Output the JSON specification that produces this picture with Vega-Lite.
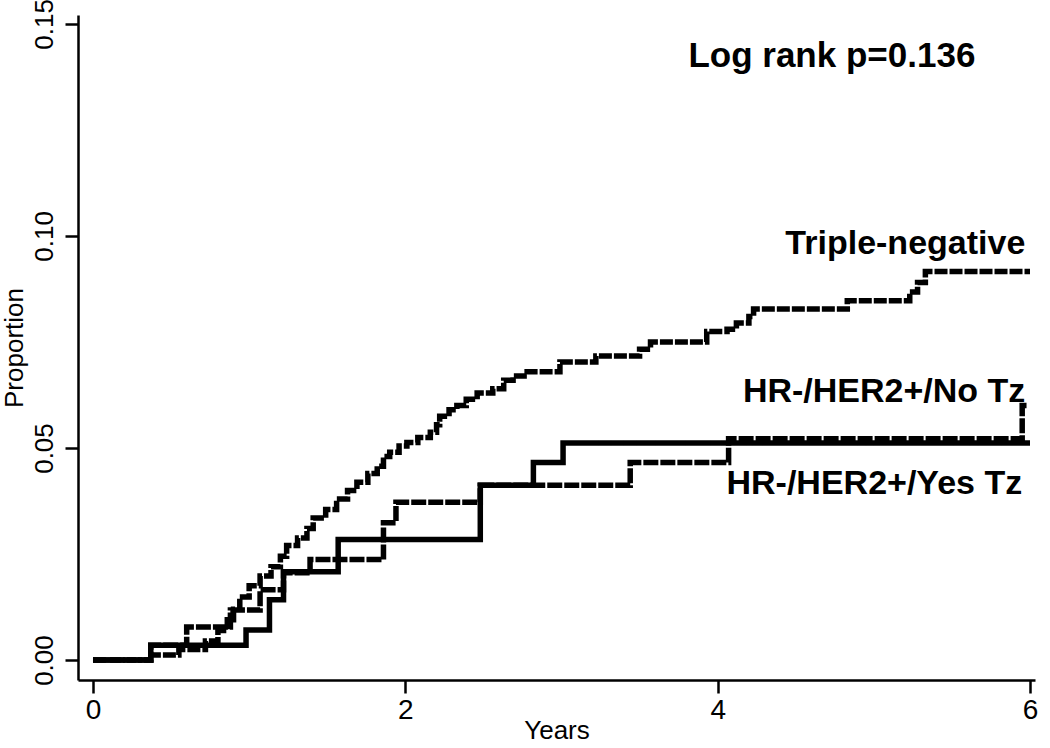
{
  "$schema": "https://vega.github.io/schema/vega-lite/v6.json",
  "width": 957,
  "height": 665,
  "autosize": {"type": "none"},
  "padding": {"left": 78, "top": 15, "right": 15, "bottom": 68},
  "background": "white",
  "config": {
    "view": {"stroke": null},
    "font": "Liberation Sans",
    "axis": {"grid": false, "domainColor": "black", "domainWidth": 2.5, "tickColor": "black", "tickWidth": 2.5, "tickSize": 13, "labelColor": "black", "titleColor": "black", "labelFont": "Liberation Sans", "titleFont": "Liberation Sans", "titleFontWeight": "normal", "labelFontSize": 26, "titleFontSize": 26}
  },
  "datasets": {
    "curves": [
      {"series": "Triple-negative", "t": 0, "p": 0},
      {"series": "Triple-negative", "t": 0.37, "p": 0.0012},
      {"series": "Triple-negative", "t": 0.55, "p": 0.0025},
      {"series": "Triple-negative", "t": 0.72, "p": 0.0045},
      {"series": "Triple-negative", "t": 0.80, "p": 0.007},
      {"series": "Triple-negative", "t": 0.86, "p": 0.0095},
      {"series": "Triple-negative", "t": 0.90, "p": 0.012},
      {"series": "Triple-negative", "t": 0.94, "p": 0.0149},
      {"series": "Triple-negative", "t": 1.00, "p": 0.0175},
      {"series": "Triple-negative", "t": 1.07, "p": 0.0198},
      {"series": "Triple-negative", "t": 1.14, "p": 0.022},
      {"series": "Triple-negative", "t": 1.20, "p": 0.0245},
      {"series": "Triple-negative", "t": 1.24, "p": 0.027},
      {"series": "Triple-negative", "t": 1.31, "p": 0.0288},
      {"series": "Triple-negative", "t": 1.37, "p": 0.031},
      {"series": "Triple-negative", "t": 1.41, "p": 0.0335},
      {"series": "Triple-negative", "t": 1.49, "p": 0.0355},
      {"series": "Triple-negative", "t": 1.56, "p": 0.038},
      {"series": "Triple-negative", "t": 1.63, "p": 0.040},
      {"series": "Triple-negative", "t": 1.69, "p": 0.0419},
      {"series": "Triple-negative", "t": 1.76, "p": 0.044},
      {"series": "Triple-negative", "t": 1.82, "p": 0.0457},
      {"series": "Triple-negative", "t": 1.86, "p": 0.048},
      {"series": "Triple-negative", "t": 1.90, "p": 0.049},
      {"series": "Triple-negative", "t": 1.96, "p": 0.0505},
      {"series": "Triple-negative", "t": 2.01, "p": 0.0513},
      {"series": "Triple-negative", "t": 2.08, "p": 0.0525},
      {"series": "Triple-negative", "t": 2.16, "p": 0.0537},
      {"series": "Triple-negative", "t": 2.20, "p": 0.0555},
      {"series": "Triple-negative", "t": 2.22, "p": 0.0575},
      {"series": "Triple-negative", "t": 2.28, "p": 0.059},
      {"series": "Triple-negative", "t": 2.33, "p": 0.060},
      {"series": "Triple-negative", "t": 2.39, "p": 0.0615},
      {"series": "Triple-negative", "t": 2.46, "p": 0.063},
      {"series": "Triple-negative", "t": 2.56, "p": 0.064},
      {"series": "Triple-negative", "t": 2.63, "p": 0.066},
      {"series": "Triple-negative", "t": 2.69, "p": 0.067},
      {"series": "Triple-negative", "t": 2.78, "p": 0.068},
      {"series": "Triple-negative", "t": 2.99, "p": 0.0703},
      {"series": "Triple-negative", "t": 3.22, "p": 0.0717},
      {"series": "Triple-negative", "t": 3.50, "p": 0.0733},
      {"series": "Triple-negative", "t": 3.57, "p": 0.075},
      {"series": "Triple-negative", "t": 3.93, "p": 0.0775},
      {"series": "Triple-negative", "t": 4.06, "p": 0.078},
      {"series": "Triple-negative", "t": 4.12, "p": 0.0795},
      {"series": "Triple-negative", "t": 4.20, "p": 0.081},
      {"series": "Triple-negative", "t": 4.23, "p": 0.0828},
      {"series": "Triple-negative", "t": 4.83, "p": 0.0847},
      {"series": "Triple-negative", "t": 5.23, "p": 0.0868},
      {"series": "Triple-negative", "t": 5.28, "p": 0.089},
      {"series": "Triple-negative", "t": 5.33, "p": 0.0916},
      {"series": "Triple-negative", "t": 6.0, "p": 0.0916},
      {"series": "HR-/HER2+/No Tz", "t": 0, "p": 0},
      {"series": "HR-/HER2+/No Tz", "t": 0.37, "p": 0.0035},
      {"series": "HR-/HER2+/No Tz", "t": 0.60, "p": 0.0078},
      {"series": "HR-/HER2+/No Tz", "t": 0.88, "p": 0.0118},
      {"series": "HR-/HER2+/No Tz", "t": 1.07, "p": 0.0166},
      {"series": "HR-/HER2+/No Tz", "t": 1.22, "p": 0.0206},
      {"series": "HR-/HER2+/No Tz", "t": 1.39, "p": 0.0237},
      {"series": "HR-/HER2+/No Tz", "t": 1.86, "p": 0.0324},
      {"series": "HR-/HER2+/No Tz", "t": 1.94, "p": 0.0372},
      {"series": "HR-/HER2+/No Tz", "t": 2.48, "p": 0.0412},
      {"series": "HR-/HER2+/No Tz", "t": 3.44, "p": 0.0466},
      {"series": "HR-/HER2+/No Tz", "t": 4.07, "p": 0.0522},
      {"series": "HR-/HER2+/No Tz", "t": 5.95, "p": 0.0600},
      {"series": "HR-/HER2+/No Tz", "t": 5.99, "p": 0.0600},
      {"series": "HR-/HER2+/Yes Tz", "t": 0, "p": 0},
      {"series": "HR-/HER2+/Yes Tz", "t": 0.37, "p": 0.0035},
      {"series": "HR-/HER2+/Yes Tz", "t": 0.98, "p": 0.0071},
      {"series": "HR-/HER2+/Yes Tz", "t": 1.13, "p": 0.0142},
      {"series": "HR-/HER2+/Yes Tz", "t": 1.22, "p": 0.0208},
      {"series": "HR-/HER2+/Yes Tz", "t": 1.57, "p": 0.0284},
      {"series": "HR-/HER2+/Yes Tz", "t": 2.48, "p": 0.0412},
      {"series": "HR-/HER2+/Yes Tz", "t": 2.82, "p": 0.0466},
      {"series": "HR-/HER2+/Yes Tz", "t": 3.01, "p": 0.0512},
      {"series": "HR-/HER2+/Yes Tz", "t": 6.0, "p": 0.0512}
    ],
    "labels": [
      {"label": "Triple-negative", "t": 5.97, "p": 0.0982},
      {"label": "HR-/HER2+/No Tz", "t": 5.97, "p": 0.0632},
      {"label": "HR-/HER2+/Yes Tz", "t": 5.95, "p": 0.0414}
    ],
    "stat": [
      {"label": "Log rank p=0.136", "t": 5.65, "p": 0.1425}
    ]
  },
  "layer": [
    {
      "data": {"name": "curves"},
      "mark": {"type": "line", "interpolate": "step-after", "strokeWidth": 5.5, "color": "black", "strokeCap": "butt", "strokeJoin": "miter"},
      "encoding": {
        "x": {"field": "t", "type": "quantitative", "scale": {"domain": [-0.096, 6.032], "nice": false, "zero": false}, "axis": {"values": [0, 2, 4, 6], "format": "d", "title": "Years", "labelFontSize": 28, "labelPadding": 3, "titlePadding": -7}},
        "y": {"field": "p", "type": "quantitative", "scale": {"domain": [-0.0047, 0.1521], "nice": false, "zero": false}, "axis": {"values": [0, 0.05, 0.1, 0.15], "format": ".2f", "title": "Proportion", "labelAngle": -90, "labelAlign": "center", "labelBaseline": "bottom", "labelPadding": 8, "titlePadding": 4}},
        "detail": {"field": "series"},
        "strokeDash": {"field": "series", "type": "nominal", "scale": {"domain": ["Triple-negative", "HR-/HER2+/No Tz", "HR-/HER2+/Yes Tz"], "range": [[13, 2], [15, 2], [1, 0]]}, "legend": null}
      }
    },
    {
      "data": {"name": "labels"},
      "mark": {"type": "text", "align": "right", "baseline": "middle", "fontSize": 34, "fontWeight": "bold", "font": "Liberation Sans", "color": "black"},
      "encoding": {
        "x": {"field": "t", "type": "quantitative"},
        "y": {"field": "p", "type": "quantitative"},
        "text": {"field": "label"}
      }
    },
    {
      "data": {"name": "stat"},
      "mark": {"type": "text", "align": "right", "baseline": "middle", "fontSize": 35, "fontWeight": "bold", "font": "Liberation Sans", "color": "black"},
      "encoding": {
        "x": {"field": "t", "type": "quantitative"},
        "y": {"field": "p", "type": "quantitative"},
        "text": {"field": "label"}
      }
    }
  ]
}
